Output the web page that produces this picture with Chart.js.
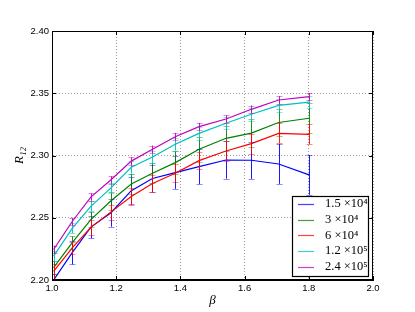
<!DOCTYPE html>
<html>
<head>
<meta charset="utf-8">
<script src="https://cdn.jsdelivr.net/npm/chart.js@4"></script>
<style>
html, body { margin: 0; padding: 0; background: #fff; }
</style>
</head>
<body>
<canvas id="chart" width="415" height="312"></canvas>
<script>
// beta values on the x axis
const beta = [1.005, 1.063, 1.121, 1.183, 1.247, 1.313, 1.384, 1.458, 1.542, 1.621, 1.706, 1.801];

const seriesLabels = ['1.5 \u00d710\u2074', '3 \u00d710\u2074', '6 \u00d710\u2074', '1.2 \u00d710\u2075', '2.4 \u00d710\u2075'];
const seriesColors = ['#0000ff', '#008000', '#ff0000', '#00bfbf', '#bf00bf'];

const r15k = [2.200, 2.222, 2.2425, 2.2538, 2.2718, 2.2815, 2.2862, 2.291, 2.2964, 2.2962, 2.2932, 2.2844];
const r15kErr = [0.005, 0.0095, 0.009, 0.011, 0.011, 0.011, 0.013, 0.014, 0.015, 0.015, 0.016, 0.016];

const r30k = [2.210, 2.230, 2.2485, 2.2635, 2.2771, 2.2857, 2.2943, 2.305, 2.3138, 2.318, 2.3265, 2.3299];
const r30kErr = [0.005, 0.005, 0.006, 0.007, 0.008, 0.008, 0.009, 0.010, 0.010, 0.011, 0.011, 0.012];

const r60k = [2.207, 2.2258, 2.2423, 2.2545, 2.267, 2.2775, 2.2858, 2.2959, 2.3036, 2.3095, 2.3178, 2.317];
const r60kErr = [0.006, 0.005, 0.006, 0.006, 0.007, 0.007, 0.007, 0.007, 0.008, 0.008, 0.008, 0.008];

const r120k = [2.2192, 2.2415, 2.2592, 2.2738, 2.2905, 2.2988, 2.309, 2.3178, 2.3259, 2.3331, 2.3402, 2.3428];
const r120kErr = [0.004, 0.004, 0.004, 0.004, 0.005, 0.005, 0.005, 0.005, 0.005, 0.005, 0.005, 0.005];

const r240k = [2.2245, 2.247, 2.2666, 2.2803, 2.2955, 2.305, 2.3151, 2.3232, 2.3293, 2.3371, 2.3446, 2.3473];
const r240kErr = [0.003, 0.003, 0.003, 0.003, 0.003, 0.003, 0.003, 0.003, 0.003, 0.003, 0.003, 0.003];

const seriesValues = [r15k, r30k, r60k, r120k, r240k];
const seriesErrors = [r15kErr, r30kErr, r60kErr, r120kErr, r240kErr];

const xTicks = [1.0, 1.2, 1.4, 1.6, 1.8, 2.0];
const xTickLabels = ['1.0', '1.2', '1.4', '1.6', '1.8', '2.0'];
const yTicks = [2.20, 2.25, 2.30, 2.35, 2.40];
const yTickLabels = ['2.20', '2.25', '2.30', '2.35', '2.40'];

const tickFont = { family: '"Liberation Sans", Arial, sans-serif', size: 9.5 };

// error bars, drawn through the chart's own scales
const errorBars = {
    id: 'errorBars',
    afterDatasetsDraw(chart) {
        const ctx = chart.ctx;
        const xs = chart.scales.x, ys = chart.scales.y;
        const area = chart.chartArea;
        ctx.save();
        ctx.beginPath();
        ctx.rect(area.left, area.top, area.right - area.left, area.bottom - area.top);
        ctx.clip();
        seriesValues.forEach((vals, s) => {
            ctx.strokeStyle = seriesColors[s];
            ctx.lineWidth = 1;
            vals.forEach((v, i) => {
                const px = Math.round(xs.getPixelForValue(beta[i])) + 0.5;
                const top = ys.getPixelForValue(v + seriesErrors[s][i]);
                const bot = ys.getPixelForValue(v - seriesErrors[s][i]);
                ctx.globalAlpha = 0.9;
                ctx.beginPath();
                ctx.moveTo(px, top);
                ctx.lineTo(px, bot);
                ctx.stroke();
                ctx.globalAlpha = 0.45;
                ctx.beginPath();
                ctx.moveTo(px - 3, Math.round(top) + 0.5);
                ctx.lineTo(px + 3, Math.round(top) + 0.5);
                ctx.moveTo(px - 3, Math.round(bot) + 0.5);
                ctx.lineTo(px + 3, Math.round(bot) + 0.5);
                ctx.stroke();
            });
        });
        ctx.restore();
    }
};

// frame, inward ticks and legend box
const frameAndLegend = {
    id: 'frameAndLegend',
    afterDraw(chart) {
        const ctx = chart.ctx;
        const xs = chart.scales.x, ys = chart.scales.y;
        const a = chart.chartArea;
        ctx.save();
        ctx.strokeStyle = '#000';
        ctx.lineWidth = 1;
        ctx.beginPath();
        xTicks.forEach(t => {
            const px = Math.round(xs.getPixelForValue(t)) + 0.5;
            ctx.moveTo(px, a.bottom); ctx.lineTo(px, a.bottom - 4);
            ctx.moveTo(px, a.top); ctx.lineTo(px, a.top + 4);
        });
        yTicks.forEach(t => {
            const py = Math.round(ys.getPixelForValue(t)) + 0.5;
            ctx.moveTo(a.left, py); ctx.lineTo(a.left + 4, py);
            ctx.moveTo(a.right, py); ctx.lineTo(a.right - 4, py);
        });
        ctx.stroke();
        ctx.strokeRect(a.left + 0.5, a.top + 0.5, a.right - a.left - 1, a.bottom - a.top - 1);

        // legend
        const bx = 292, by = 196, bw = 76, bh = 80;
        ctx.fillStyle = '#fff';
        ctx.fillRect(bx, by, bw, bh);
        ctx.lineWidth = 1.2;
        ctx.strokeRect(bx + 0.5, by + 0.5, bw, bh);
        ctx.font = '12.5px "Liberation Serif", "DejaVu Serif", serif';
        ctx.textBaseline = 'middle';
        ctx.textAlign = 'left';
        seriesLabels.forEach((lab, i) => {
            const ly = by + 8 + i * 15.7;
            ctx.strokeStyle = seriesColors[i];
            ctx.globalAlpha = 0.75;
            ctx.lineWidth = 1.2;
            ctx.beginPath();
            ctx.moveTo(bx + 6, Math.round(ly) + 0.5);
            ctx.lineTo(bx + 22, Math.round(ly) + 0.5);
            ctx.stroke();
            ctx.globalAlpha = 1;
            ctx.fillStyle = '#000';
            ctx.fillText(lab, bx + 33, ly);
        });
        ctx.restore();
    }
};

const datasets = seriesValues.map((vals, s) => ({
    label: seriesLabels[s],
    data: vals.map((v, i) => ({ x: beta[i], y: v })),
    borderColor: seriesColors[s],
    backgroundColor: seriesColors[s],
    borderWidth: 1.2,
    pointRadius: 0,
    fill: false,
    tension: 0,
    order: seriesValues.length - s
}));

new Chart(document.getElementById('chart').getContext('2d'), {
    type: 'line',
    data: { datasets: datasets },
    options: {
        responsive: false,
        animation: false,
        devicePixelRatio: 1,
        layout: { padding: { left: 0, top: 31, right: 42, bottom: 0 } },
        plugins: {
            legend: { display: false },
            tooltip: { enabled: false }
        },
        scales: {
            x: {
                type: 'linear',
                min: 1.0,
                max: 2.0,
                afterBuildTicks: scale => { scale.ticks = xTicks.map(v => ({ value: v })); },
                afterFit: scale => { scale.height = 32; },
                ticks: {
                    color: '#000',
                    font: tickFont,
                    padding: 3,
                    maxRotation: 0,
                    callback: (v, i) => xTickLabels[i]
                },
                grid: { color: '#9a9a9a', lineWidth: 1, drawTicks: false },
                border: { display: true, color: '#000', dash: [1, 2] },
                title: {
                    display: true,
                    text: '\u03b2',
                    color: '#000',
                    font: { family: '"Liberation Serif", "DejaVu Serif", serif', size: 13, style: 'italic' },
                    padding: { top: 0, bottom: 4 }
                }
            },
            y: {
                type: 'linear',
                min: 2.20,
                max: 2.40,
                afterBuildTicks: scale => { scale.ticks = yTicks.map(v => ({ value: v })); },
                afterFit: scale => { scale.width = 52; },
                ticks: {
                    color: '#000',
                    font: tickFont,
                    padding: 3,
                    callback: (v, i) => yTickLabels[i]
                },
                grid: { color: '#9a9a9a', lineWidth: 1, drawTicks: false },
                border: { display: true, color: '#000', dash: [1, 2] },
                title: {
                    display: true,
                    text: 'R\u2081\u2082',
                    color: '#000',
                    font: { family: '"Liberation Serif", "DejaVu Serif", serif', size: 13, style: 'italic' },
                    padding: { top: 12, bottom: 0 }
                }
            }
        }
    },
    plugins: [errorBars, frameAndLegend]
});
</script>
</body>
</html>
